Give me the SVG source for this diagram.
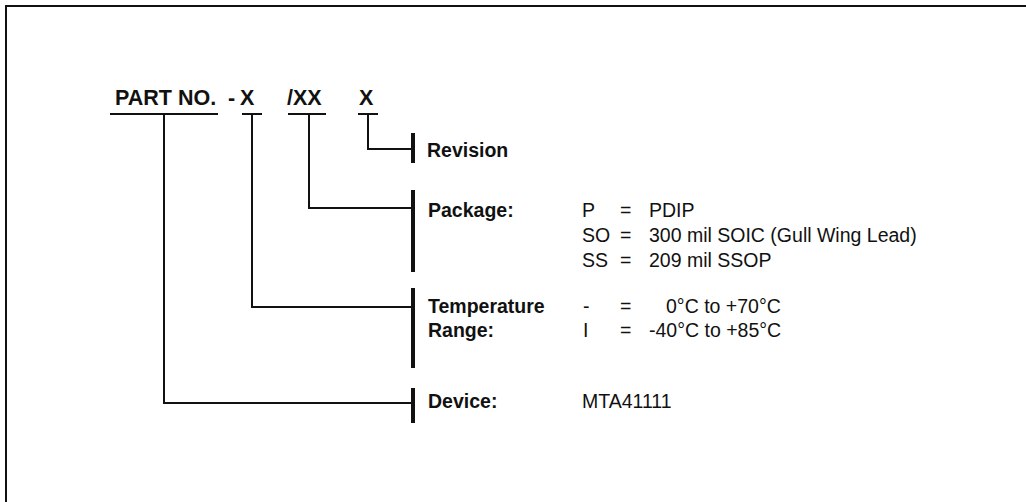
<svg xmlns="http://www.w3.org/2000/svg" width="1026" height="502" viewBox="0 0 1026 502">
<style>
.t{font-family:"Liberation Sans",Arial,sans-serif;fill:#111}
.h{font-size:21.5px;font-weight:bold}
.l{font-size:19.5px;font-weight:bold}
.v{font-size:19.5px}
.ln{stroke:#111;stroke-width:2;fill:none}
.bar{stroke:#111;stroke-width:4;fill:none}
</style>
<rect width="1026" height="502" fill="#fff"/>
<path class="ln" d="M6,502 V6 H1026"/>
<g id="header">
<text class="t h" x="115" y="105">PART NO.</text>
<text class="t h" x="228" y="105">-</text>
<text class="t h" x="240" y="105">X</text>
<text class="t h" x="287" y="105">/XX</text>
<text class="t h" x="359" y="105">X</text>
<path class="ln" d="M110,114 H218 M242,114 H262 M288,114 H326 M358,114 H378"/>
</g>
<g id="connectors">
<path class="ln" d="M164,114 V403 H413 M252,114 V307 H413 M309,114 V208 H413 M368,114 V149 H413"/>
</g>
<g id="revision">
<path class="bar" d="M413,133 V163"/>
<text class="t l" x="427" y="157">Revision</text>
</g>
<g id="package">
<path class="bar" d="M413,190 V272"/>
<text class="t l" x="428" y="217">Package:</text>
<text class="t v" x="582" y="217">P</text>
<text class="t v" x="582" y="242">SO</text>
<text class="t v" x="582" y="267">SS</text>
<text class="t v" x="620" y="217">=</text>
<text class="t v" x="620" y="242">=</text>
<text class="t v" x="620" y="267">=</text>
<text class="t v" x="649" y="217">PDIP</text>
<text class="t v" x="649" y="242">300 mil SOIC (Gull Wing Lead)</text>
<text class="t v" x="649" y="267">209 mil SSOP</text>
</g>
<g id="temperature">
<path class="bar" d="M413,288 V368"/>
<text class="t l" x="428" y="313">Temperature</text>
<text class="t l" x="428" y="337">Range:</text>
<text class="t v" x="583" y="313">-</text>
<text class="t v" x="583" y="337">I</text>
<text class="t v" x="620" y="313">=</text>
<text class="t v" x="620" y="337">=</text>
<text class="t v" x="666" y="313">0°C to +70°C</text>
<text class="t v" x="649" y="337">-40°C to +85°C</text>
</g>
<g id="device">
<path class="bar" d="M413,388 V423"/>
<text class="t l" x="428" y="408">Device:</text>
<text class="t v" x="582" y="408">MTA41111</text>
</g>
</svg>
